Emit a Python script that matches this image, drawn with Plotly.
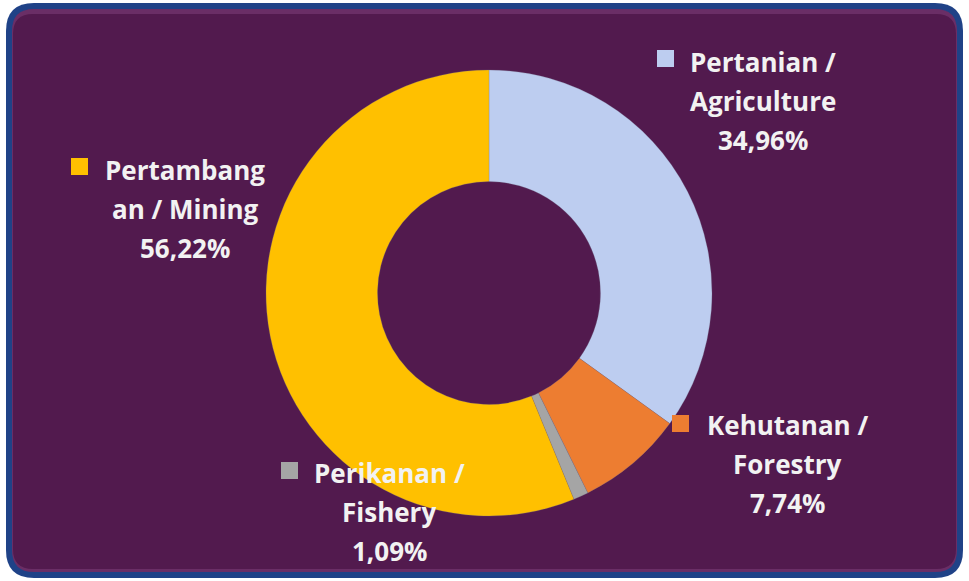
import plotly.graph_objects as go

# ---- data ----
categories = ["Pertanian /<br>Agriculture", "Kehutanan /<br>Forestry",
              "Perikanan /<br>Fishery", "Pertambang<br>an / Mining"]
shares = [34.96, 7.74, 1.09, 56.22]
colors = ["#BDCDF0", "#ED7D31", "#A5A5A5", "#FFC000"]

W, H = 969, 581
PURPLE = "#521A4E"
BLUE = "#1F4287"
TEXT = "#F2F2F2"

# label layout (pixel positions: square left/top, text center x, first-line center y)
label_pos = [
    dict(sq=(657, 50), cx=763, cy=62),
    dict(sq=(672, 415), cx=787, cy=425),
    dict(sq=(281, 462), cx=389, cy=473),
    dict(sq=(71, 158), cx=185, cy=170),
]
SQ = 17
LINE = 39

fig = go.Figure()

# pie (donut)
cx, cy, r = 489, 293, 223
fig.add_trace(go.Pie(
    labels=[c.replace("<br>", " ") for c in categories],
    values=shares,
    marker=dict(colors=colors, line=dict(color="rgba(120,120,140,0.5)", width=0.5)),
    hole=0.5,
    sort=False,
    direction="clockwise",
    rotation=0,
    textinfo="none",
    hoverinfo="label+percent",
    showlegend=False,
    domain=dict(x=[(cx - r) / W, (cx + r) / W], y=[(H - cy - r) / H, (H - cy + r) / H]),
))


def rrect(x0, y0, x1, y1, rad):
    return (f"M {x0+rad},{y0} L {x1-rad},{y0} Q {x1},{y0} {x1},{y0+rad} "
            f"L {x1},{y1-rad} Q {x1},{y1} {x1-rad},{y1} L {x0+rad},{y1} "
            f"Q {x0},{y1} {x0},{y1-rad} L {x0},{y0+rad} Q {x0},{y0} {x0+rad},{y0} Z")


shapes = [
    dict(type="path", path=rrect(6, 3, 963, 578, 28), fillcolor=BLUE,
         line=dict(width=0), xref="x", yref="y", layer="below"),
    dict(type="path", path=rrect(12, 9, 957, 572, 22), fillcolor="#6A2E66",
         line=dict(width=0), xref="x", yref="y", layer="below"),
    dict(type="path", path=rrect(13, 14, 956, 569, 20), fillcolor=PURPLE,
         line=dict(width=0), xref="x", yref="y", layer="below"),
]

annotations = []
for cat, val, col, p in zip(categories, shares, colors, label_pos):
    sx, sy = p["sq"]
    shapes.append(dict(type="rect", x0=sx, y0=sy, x1=sx + SQ, y1=sy + SQ,
                       fillcolor=col, line=dict(width=0), xref="x", yref="y"))
    lines = cat.split("<br>") + [f"{val:.2f}".replace(".", ",") + "%"]
    for i, ln in enumerate(lines):
        annotations.append(dict(
            x=p["cx"], y=p["cy"] + i * LINE, xref="x", yref="y",
            text=f"<b>{ln}</b>", showarrow=False, xanchor="center", yanchor="middle",
            font=dict(family="Open Sans", size=26, color=TEXT),
        ))

fig.update_layout(
    width=W, height=H,
    margin=dict(l=0, r=0, t=0, b=0),
    paper_bgcolor="white",
    plot_bgcolor="rgba(0,0,0,0)",
    xaxis=dict(range=[0, W], visible=False, fixedrange=True),
    yaxis=dict(range=[H, 0], visible=False, fixedrange=True),
    shapes=shapes,
    annotations=annotations,
)

fig.write_html("out.html", config={"displayModeBar": False},
               post_script="document.body.style.margin='0px';document.body.style.overflow='hidden';")
